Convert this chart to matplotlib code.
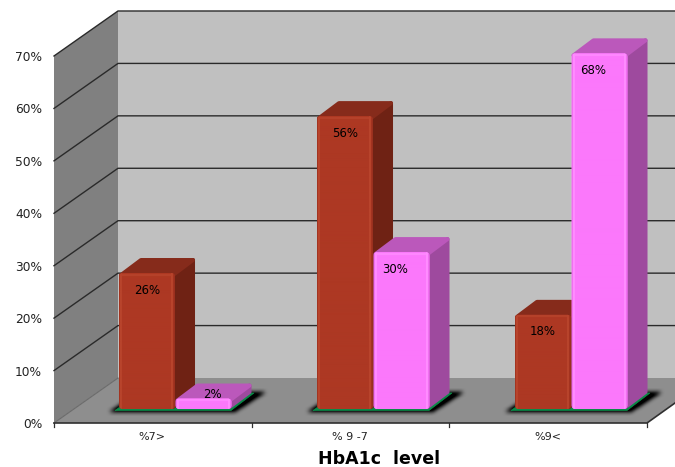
"""
HbA1c level chart, two series drawn as pseudo-3D columns
"""
import matplotlib
matplotlib.use('Agg')
import matplotlib.pyplot as plt
from matplotlib.patches import Polygon, FancyBboxPatch
from matplotlib.path import Path
from matplotlib.colors import to_rgb
import numpy as np

plt.rcParams['font.family'] = ['DejaVu Sans']

categories = ['%7>', '% 9 -7', '%9<']
series_a = [26, 56, 18]
series_b = [2, 30, 68]
y_ticks = [0, 10, 20, 30, 40, 50, 60, 70]
x_label = 'HbA1c  level'

# geometry of the box, in pixels
W, H = 675, 467
FRONT_L, FRONT_R, FRONT_Y = 54, 647, 423
DX, DY = 64, -45
UNIT = 5.243
BAR_BASE = 409
BAR_UNIT = 5.23
BAR_W = 56
BAR_DX, BAR_DY = 20, -15
GROUP_X = [119, 317, 515]

RED = {'front': '#ad3823', 'edge': '#b8442c', 'rim': '#9a301e', 'side': '#6f2214', 'top': '#862b1b'}
PINK = {'front': '#fb78fb', 'edge': '#ff8cff', 'rim': '#e868e8', 'side': '#9e4a9e', 'top': '#bb58bb'}


def front_y(v):
    return FRONT_Y - v * UNIT


def bar_top(v):
    return BAR_BASE - v * BAR_UNIT


def draw_box(ax):
    """walls, floor and gridlines"""
    right = W
    top = front_y(70) + DY
    ax.add_patch(Polygon([(FRONT_L + DX, FRONT_Y + DY), (FRONT_L + DX, top), (right, top), (right, FRONT_Y + DY)],
                         fc='#c0c0c0', ec='none', zorder=1))
    ax.add_patch(Polygon([(FRONT_L, FRONT_Y), (FRONT_L, front_y(70)), (FRONT_L + DX, top), (FRONT_L + DX, FRONT_Y + DY)],
                         fc='#808080', ec='none', zorder=1))
    ax.add_patch(Polygon([(FRONT_L, FRONT_Y), (FRONT_L + DX, FRONT_Y + DY), (right, FRONT_Y + DY),
                          (right, FRONT_Y - 20), (FRONT_R, FRONT_Y)],
                         fc='#8e8e8e', ec='none', zorder=1))
    for v in y_ticks[1:]:
        y = front_y(v)
        ax.plot([FRONT_L, FRONT_L + DX, right], [y, y + DY, y + DY], color='#2a2a2a', lw=1.0, zorder=2)
    ax.plot([FRONT_L, FRONT_L + DX], [FRONT_Y, FRONT_Y + DY], color='#6a6a6a', lw=0.8, zorder=2)
    ax.plot([FRONT_L, FRONT_R, right], [FRONT_Y, FRONT_Y, FRONT_Y - 20], color='#303030', lw=1.2, zorder=3)
    # tick marks under the front edge
    step = (FRONT_R - FRONT_L) / len(categories)
    for i in range(len(categories) + 1):
        x = FRONT_L + i * step
        ax.plot([x, x], [FRONT_Y, FRONT_Y + 4], color='#303030', lw=0.9, zorder=3)


def blur(a, n=3, passes=3):
    kernel = np.ones(2 * n + 1) / (2 * n + 1)
    for _ in range(passes):
        a = np.apply_along_axis(np.convolve, 0, a, kernel, mode='same')
        a = np.apply_along_axis(np.convolve, 1, a, kernel, mode='same')
    return a


def draw_shadow(ax, x0):
    """soft black pad with a green rim under each pair of columns"""
    x1 = x0 + 2 * BAR_W + 1
    pts = [(x0 - 10, BAR_BASE + 3), (x1 + 3, BAR_BASE + 3), (x1 + BAR_DX + 14, BAR_BASE + BAR_DY - 2),
           (x0 + BAR_DX, BAR_BASE + BAR_DY - 2)]
    xx, yy = np.meshgrid(np.arange(W) + 0.5, np.arange(H) + 0.5)
    inside = Path(pts).contains_points(np.column_stack([xx.ravel(), yy.ravel()])).reshape(H, W)
    alpha = np.clip(blur(inside.astype(float), n=2, passes=2) * 1.3, 0, 1)
    rgba = np.zeros((H, W, 4))
    rgba[..., 3] = alpha
    ax.imshow(rgba, extent=(0, W, H, 0), aspect='auto', interpolation='bilinear', zorder=3)
    rim = [(x0 - 4, BAR_BASE + 1.5), (x1 - 1, BAR_BASE + 1.5), (x1 + BAR_DX + 2, BAR_BASE + BAR_DY - 1),
           (x0 + BAR_DX, BAR_BASE + BAR_DY - 1)]
    ax.add_patch(Polygon(rim, fc='#0b8a48', ec='#0b8a48', lw=0.5, zorder=3.1))


def draw_bar(ax, x, value, colors, z):
    """one column: side, top, then the front face with its bevel"""
    y = bar_top(value)
    i = 2  # inset, given back by the thick round-joined outline
    ax.add_patch(Polygon([(x + BAR_W - i, y + i), (x + BAR_W + BAR_DX - i, y + BAR_DY + i),
                          (x + BAR_W + BAR_DX - i, BAR_BASE + BAR_DY - i), (x + BAR_W - i, BAR_BASE - i)],
                         fc=colors['side'], ec=colors['side'], lw=2.9, joinstyle='round', zorder=z))
    ax.add_patch(Polygon([(x + i, y + i), (x + BAR_DX + i, y + BAR_DY + i), (x + BAR_W + BAR_DX - i, y + BAR_DY + i),
                          (x + BAR_W - i, y + i)],
                         fc=colors['top'], ec=colors['top'], lw=2.9, joinstyle='round', zorder=z))
    r = 3
    face = FancyBboxPatch((x + r, y + r), BAR_W - 2 * r, BAR_BASE - y - 2 * r,
                          boxstyle=f'round,pad={r},rounding_size={r + 1}',
                          fc=colors['front'], ec='none', zorder=z + 0.1)
    ax.add_patch(face)
    # bevel: lighter towards the edges, darker right at the rim
    base = np.array(to_rgb(colors['front']))
    hi = np.array(to_rgb(colors['edge']))
    rim = np.array(to_rgb(colors['rim']))
    cols = np.tile(base, (BAR_W, 1))
    cols[0] = (base + rim) / 2
    cols[1:3] = hi
    cols[-4:-2] = hi
    cols[-2] = (base + rim) / 2
    cols[-1] = rim
    im = ax.imshow(cols[None, :, :], extent=(x, x + BAR_W, BAR_BASE, y), aspect='auto',
                   interpolation='bilinear', zorder=z + 0.2)
    im.set_clip_path(face)
    ax.plot([x + 4, x + BAR_W - 4], [y + 1.5, y + 1.5], color=colors['edge'], lw=1.6, alpha=0.8, zorder=z + 0.3)


def main():
    fig = plt.figure(figsize=(6.75, 4.67), dpi=100)
    ax = fig.add_axes([0, 0, 1, 1])
    draw_box(ax)

    for i, x in enumerate(GROUP_X):
        draw_shadow(ax, x)
        draw_bar(ax, x, series_a[i], RED, 4 + i)
        draw_bar(ax, x + BAR_W + 0.5, series_b[i], PINK, 4.5 + i)

        ax.text(x + 28, bar_top(series_a[i]) + 17, f'{series_a[i]}%', ha='center', va='center',
                fontsize=8.5, color='black', zorder=10)
        # the short column carries its label on the top face
        if series_b[i] < 5:
            bx, by = x + BAR_W + 37, bar_top(series_b[i]) - 4
        else:
            bx, by = x + BAR_W + 22, bar_top(series_b[i]) + 17
        ax.text(bx, by, f'{series_b[i]}%', ha='center', va='center', fontsize=8.5, color='black', zorder=10)

        ax.text(x + 33, 437, categories[i], ha='center', va='center', fontsize=8, color='#222222')

    for v in y_ticks:
        ax.text(42, front_y(v) + 1.5, f'{v}%', ha='right', va='center', fontsize=8.8, color='#222222')
    ax.text(379, 459, x_label, ha='center', va='center', fontsize=12.5, fontweight='bold', color='black')

    ax.set_xlim(0, W)
    ax.set_ylim(H, 0)
    ax.axis('off')
    fig.savefig('out.png', dpi=100, facecolor='white')
    plt.close(fig)


if __name__ == '__main__':
    main()
